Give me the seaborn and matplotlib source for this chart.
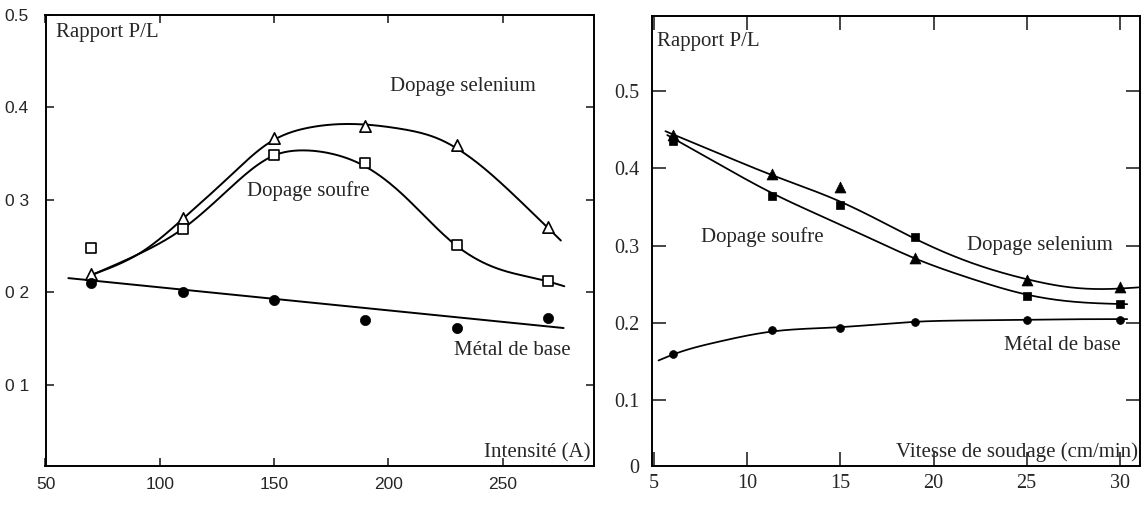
import numpy as np
import matplotlib
matplotlib.use("Agg")
import matplotlib.pyplot as plt
import seaborn as sns

# ---------------- data: left panel (Intensité) ----------------
intensite = [70, 110, 150, 190, 230, 270]
sel_left = [0.220, 0.280, 0.367, 0.380, 0.359, 0.271]
souf_left = [0.248, 0.268, 0.349, 0.340, 0.251, 0.212]
base_left = [0.210, 0.200, 0.192, 0.170, 0.161, 0.172]

# hand-drawn fitted curves (knots)
sel_curve_x = [71.5, 93, 110.6, 130, 148, 165, 185, 205, 222, 240, 258, 275.5]
sel_curve_y = [0.220, 0.245, 0.2805, 0.324, 0.362, 0.378, 0.382, 0.377, 0.366, 0.338, 0.298, 0.256]
souf_curve_x = [71.5, 93, 110.6, 130, 150, 162, 175, 190, 205.5, 229.5, 249, 269.6, 277]
souf_curve_y = [0.220, 0.244, 0.2697, 0.311, 0.348, 0.3535, 0.350, 0.336, 0.3075, 0.251, 0.2246, 0.2119, 0.2065]
base_curve_x = [60, 276.7]
base_curve_y = [0.2153, 0.1613]

# ---------------- data: right panel (Vitesse) ----------------
vitesse = [6, 11.35, 15, 19, 25, 30]
tri_right = [0.443, 0.393, 0.376, 0.284, 0.256, 0.246]
sq_right = [0.435, 0.364, 0.352, 0.311, 0.235, 0.224]
circ_right = [0.160, 0.191, 0.194, 0.201, 0.204, 0.204]

up_curve_x = [5.6, 8.5, 11.35, 14.92, 17.13, 19, 21.96, 25.03, 27.33, 29.48, 31.0]
up_curve_y = [0.448, 0.419, 0.391, 0.3577, 0.332, 0.309, 0.2784, 0.2565, 0.2461, 0.244, 0.246]
lo_curve_x = [5.7, 8.5, 11.35, 14.92, 17.13, 19, 22, 25.0, 27.5, 30.4]
lo_curve_y = [0.443, 0.405, 0.3677, 0.328, 0.3035, 0.2835, 0.2575, 0.2367, 0.2275, 0.2243]
bs_curve_x = [5.23, 6.1, 8.36, 11.35, 14.92, 19, 23, 27, 30.4]
bs_curve_y = [0.1515, 0.160, 0.1752, 0.189, 0.1945, 0.2015, 0.2035, 0.2047, 0.2050]

left_yticks = [0.1, 0.2, 0.3, 0.4, 0.5]
left_ylabels = ["0 1", "0 2", "0 3", "0.4", "0.5"]
left_xticks = [50, 100, 150, 200, 250]
right_yticks = [0.1, 0.2, 0.3, 0.4, 0.5]
right_ylabels = ["0.1", "0.2", "0.3", "0.4", "0.5"]
right_xticks = [5, 10, 15, 20, 25, 30]


def natural_spline(xk, yk, num=300):
    xk = np.asarray(xk, float)
    yk = np.asarray(yk, float)
    n = len(xk)
    if n < 3:
        xs = np.linspace(xk[0], xk[-1], num)
        return xs, np.interp(xs, xk, yk)
    h = np.diff(xk)
    A = np.zeros((n, n))
    b = np.zeros(n)
    A[0, 0] = 1
    A[-1, -1] = 1
    for i in range(1, n - 1):
        A[i, i - 1] = h[i - 1]
        A[i, i] = 2 * (h[i - 1] + h[i])
        A[i, i + 1] = h[i]
        b[i] = 3 * ((yk[i + 1] - yk[i]) / h[i] - (yk[i] - yk[i - 1]) / h[i - 1])
    c = np.linalg.solve(A, b)
    xs = np.linspace(xk[0], xk[-1], num)
    idx = np.clip(np.searchsorted(xk, xs) - 1, 0, n - 2)
    dx = xs - xk[idx]
    bc = (yk[1:] - yk[:-1]) / h - h * (2 * c[:-1] + c[1:]) / 3
    dc = (c[1:] - c[:-1]) / (3 * h)
    ys = yk[idx] + bc[idx] * dx + c[idx] * dx ** 2 + dc[idx] * dx ** 3
    return xs, ys


sns.set_style("ticks")
plt.rcParams["font.family"] = ["Liberation Serif", "DejaVu Serif"]

fig = plt.figure(figsize=(11.44, 5.05), dpi=100)
H = 505.0
W = 1144.0
axL = fig.add_axes([45.5 / W, 1 - 466 / H, (594 - 45.5) / W, (466 - 15) / H])
axR = fig.add_axes([652 / W, 1 - 466 / H, (1139.5 - 652) / W, (466 - 16) / H])

LW = 1.4
for xk, yk in [(sel_curve_x, sel_curve_y), (souf_curve_x, souf_curve_y), (base_curve_x, base_curve_y)]:
    xs, ys = natural_spline(xk, yk)
    sns.lineplot(x=xs, y=ys, ax=axL, color="black", linewidth=LW, estimator=None, sort=False)

sns.scatterplot(x=intensite, y=sel_left, ax=axL, marker="^", s=66, color="white",
                edgecolor="black", linewidth=1.2, zorder=4)
sns.scatterplot(x=intensite, y=souf_left, ax=axL, marker="s", s=48, color="white",
                edgecolor="black", linewidth=1.2, zorder=4)
sns.scatterplot(x=intensite, y=base_left, ax=axL, marker="o", s=54, color="black",
                edgecolor="black", linewidth=0.5, zorder=4)

for xk, yk in [(up_curve_x, up_curve_y), (lo_curve_x, lo_curve_y), (bs_curve_x, bs_curve_y)]:
    xs, ys = natural_spline(xk, yk)
    sns.lineplot(x=xs, y=ys, ax=axR, color="black", linewidth=LW * 0.9, estimator=None, sort=False)

sns.scatterplot(x=vitesse, y=tri_right, ax=axR, marker="^", s=62, color="black",
                edgecolor="black", linewidth=0.5, zorder=4)
sns.scatterplot(x=vitesse, y=sq_right, ax=axR, marker="s", s=36, color="black",
                edgecolor="black", linewidth=0.5, zorder=4)
sns.scatterplot(x=vitesse, y=circ_right, ax=axR, marker="o", s=32, color="black",
                edgecolor="black", linewidth=0.5, zorder=4)

# ---- left axes styling
axL.set_xlim(50, 290)
axL.set_ylim(0.012, 0.5)
axL.set_xticks(left_xticks)
axL.set_xticklabels([str(t) for t in left_xticks], family=["Liberation Sans", "DejaVu Sans"], fontsize=12.5)
axL.set_yticks(left_yticks)
axL.set_yticklabels(left_ylabels, family=["Liberation Sans", "DejaVu Sans"], fontsize=12.5)
axL.tick_params(direction="in", length=6, width=1.2, top=True, right=True, pad=8)
axL.tick_params(axis="y", pad=12)

# ---- right axes styling
axR.set_xlim(4.88, 31.06)
axR.set_ylim(0.015, 0.597)
axR.set_xticks(right_xticks)
axR.set_xticklabels([str(t) for t in right_xticks], fontsize=14.5)
axR.set_yticks([0.015] + right_yticks)
axR.set_yticklabels(["0"] + right_ylabels, fontsize=14.5)
axR.tick_params(direction="in", length=10, width=1.2, top=True, right=True, pad=6)
axR.tick_params(axis="y", pad=9)
axR.yaxis.get_major_ticks()[0].tick1line.set_visible(False)
axR.yaxis.get_major_ticks()[0].tick2line.set_visible(False)

for ax in (axL, axR):
    ax.set_xlabel("")
    ax.set_ylabel("")
    for sp in ax.spines.values():
        sp.set_linewidth(1.4)
        sp.set_color("black")
    ax.set_facecolor("white")

FS = 15
axL.text(54.5, 0.481, "Rapport P/L", fontsize=FS, va="center", ha="left")
axL.text(200.7, 0.4223, "Dopage selenium", fontsize=FS, va="center", ha="left")
axL.text(138.0, 0.3093, "Dopage soufre", fontsize=FS, va="center", ha="left")
axL.text(228.6, 0.137, "Métal de base", fontsize=FS, va="center", ha="left")
axL.text(288.5, 0.026, "Intensité (A)", fontsize=FS, va="center", ha="right")

axR.text(5.17, 0.5635, "Rapport P/L", fontsize=FS, va="center", ha="left")
axR.text(7.49, 0.3106, "Dopage soufre", fontsize=FS, va="center", ha="left")
axR.text(21.78, 0.3006, "Dopage selenium", fontsize=FS, va="center", ha="left")
axR.text(23.77, 0.1709, "Métal de base", fontsize=FS, va="center", ha="left")
axR.text(31.0, 0.0334, "Vitesse de soudage (cm/min)", fontsize=FS, va="center", ha="right")

fig.savefig("out.png", dpi=100, facecolor="white")
